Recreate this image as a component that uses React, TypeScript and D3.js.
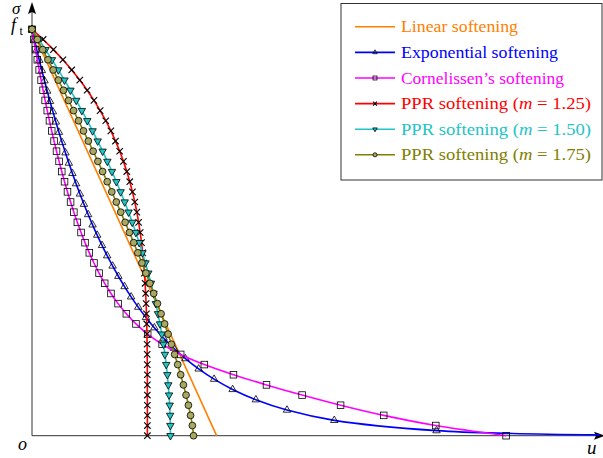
import React from 'react';
import * as d3 from 'd3';

// normalised stress grid sigma/ft (shared by PPR and Cornelissen curves)
const sigmaGrid = [1, 0.975, 0.95, 0.925, 0.9, 0.875, 0.85, 0.825, 0.8, 0.775, 0.75, 0.725, 0.7, 0.675, 0.65, 0.625, 0.6, 0.575, 0.55, 0.525, 0.5, 0.475, 0.45, 0.425, 0.4, 0.375, 0.35, 0.325, 0.3, 0.275, 0.25, 0.225, 0.2, 0.175, 0.15, 0.125, 0.1, 0.075, 0.05, 0.025, 0];

// opening u (in units of Gf/ft)
const linearU = [0, 2];
const linearSigma = [1, 0];

const pprU125 = [0, 0.1204, 0.2319, 0.3349, 0.4299, 0.5173, 0.5975, 0.6709, 0.738, 0.7991, 0.8545, 0.9046, 0.9499, 0.9905, 1.0269, 1.0593, 1.088, 1.1134, 1.1356, 1.155, 1.1719, 1.1864, 1.1987, 1.2092, 1.218, 1.2253, 1.2312, 1.2361, 1.2399, 1.2429, 1.2451, 1.2468, 1.248, 1.2488, 1.2494, 1.2497, 1.2499, 1.25, 1.25, 1.25, 1.25];
const pprU150 = [0, 0.0741, 0.1463, 0.2166, 0.285, 0.3516, 0.4163, 0.4791, 0.54, 0.5991, 0.6563, 0.7116, 0.765, 0.8166, 0.8663, 0.9141, 0.96, 1.0041, 1.0463, 1.0866, 1.125, 1.1616, 1.1963, 1.2291, 1.26, 1.2891, 1.3163, 1.3416, 1.365, 1.3866, 1.4063, 1.4241, 1.44, 1.4541, 1.4663, 1.4766, 1.485, 1.4916, 1.4963, 1.4991, 1.5];
const pprU175 = [0, 0.0581, 0.1157, 0.1728, 0.2294, 0.2854, 0.3409, 0.3959, 0.4504, 0.5042, 0.5575, 0.6102, 0.6623, 0.7138, 0.7647, 0.8149, 0.8644, 0.9133, 0.9614, 1.0088, 1.0555, 1.1014, 1.1465, 1.1908, 1.2342, 1.2768, 1.3184, 1.359, 1.3985, 1.437, 1.4744, 1.5105, 1.5453, 1.5787, 1.6105, 1.6406, 1.6688, 1.6946, 1.7178, 1.7372, 1.75];
const cornU = [0, 0.0187, 0.0379, 0.0576, 0.0778, 0.0987, 0.1201, 0.1423, 0.1652, 0.189, 0.2135, 0.239, 0.2656, 0.2933, 0.3222, 0.3525, 0.3844, 0.418, 0.4535, 0.4912, 0.5314, 0.5745, 0.6209, 0.6714, 0.7265, 0.7875, 0.8556, 0.9326, 1.022, 1.1265, 1.2533, 1.41, 1.6107, 1.8669, 2.1823, 2.5403, 2.926, 3.343, 3.8104, 4.3743, 5.136];

const expSigma = [1, 0.9747, 0.9494, 0.924, 0.8987, 0.8734, 0.8481, 0.8228, 0.7974, 0.7721, 0.7468, 0.7215, 0.6962, 0.6708, 0.6455, 0.6202, 0.5949, 0.5696, 0.5442, 0.5189, 0.4936, 0.4683, 0.4429, 0.4176, 0.3923, 0.367, 0.3417, 0.3163, 0.291, 0.2657, 0.2404, 0.2151, 0.1897, 0.1644, 0.1391, 0.1138, 0.0885, 0.0631, 0.0378, 0.0125];
const expU = [0, 0.0256, 0.052, 0.079, 0.1068, 0.1354, 0.1648, 0.1951, 0.2264, 0.2586, 0.292, 0.3265, 0.3622, 0.3992, 0.4377, 0.4777, 0.5194, 0.5629, 0.6084, 0.656, 0.706, 0.7587, 0.8143, 0.8732, 0.9357, 1.0024, 1.0739, 1.1509, 1.2343, 1.3254, 1.4255, 1.5368, 1.6621, 1.8053, 1.9725, 2.1735, 2.4252, 2.7624, 3.2749, 4.382];
const expTailU = [5.2, 6.15];
const expTailSigma = [0.0055, 0.0021];

type Marker = 'none' | 'tri' | 'sq' | 'x' | 'dtri' | 'circ';
interface Series { name: string; m?: string; color: string; u: number[]; s: number[]; nMark: number; marker: Marker; fill: string; }

const series: Series[] = [
  { name: 'Linear softening', color: '#ff8000', u: linearU, s: linearSigma, nMark: 0, marker: 'none', fill: 'none' },
  { name: 'Exponential softening', color: '#0000ff', u: [...expU, ...expTailU], s: [...expSigma, ...expTailSigma], nMark: expU.length, marker: 'tri', fill: 'none' },
  { name: 'Cornelissen\u2019s softening', color: '#ff00ff', u: cornU, s: sigmaGrid, nMark: cornU.length, marker: 'sq', fill: 'none' },
  { name: 'PPR softening ', m: '1.25', color: '#ff0000', u: pprU125, s: sigmaGrid, nMark: pprU125.length, marker: 'x', fill: 'none' },
  { name: 'PPR softening ', m: '1.50', color: '#22c4c4', u: pprU150, s: sigmaGrid, nMark: pprU150.length, marker: 'dtri', fill: '#22c4c4' },
  { name: 'PPR softening ', m: '1.75', color: '#808000', u: pprU175, s: sigmaGrid, nMark: pprU175.length, marker: 'circ', fill: '#a8a860' },
];
const legendWidths = [117, 157, 163, 190, 190, 190];

function MarkerShape({ type, cx, cy, k, fill }: { type: Marker; cx: number; cy: number; k: number; fill: string }) {
  const sw = 0.8;
  if (type === 'tri') {
    const r = 4.3 * k;
    return <polygon points={`${cx},${cy - r} ${cx - r * 0.866},${cy + r / 2} ${cx + r * 0.866},${cy + r / 2}`} fill={fill} stroke="#000" strokeWidth={sw} />;
  }
  if (type === 'dtri') {
    const r = 4.3 * k;
    return <polygon points={`${cx},${cy + r} ${cx - r * 0.866},${cy - r / 2} ${cx + r * 0.866},${cy - r / 2}`} fill={fill} stroke="#000" strokeWidth={sw} />;
  }
  if (type === 'sq') {
    const r = 3.3 * k;
    return <rect x={cx - r} y={cy - r} width={2 * r} height={2 * r} fill={fill} stroke="#000" strokeWidth={sw} />;
  }
  if (type === 'x') {
    const r = 3.2 * k;
    return <path d={`M${cx - r},${cy - r}L${cx + r},${cy + r}M${cx - r},${cy + r}L${cx + r},${cy - r}`} stroke="#000" strokeWidth={1.1} />;
  }
  if (type === 'circ') {
    const r = 3.4 * k;
    return <circle cx={cx} cy={cy} r={r} fill={fill} stroke="#000" strokeWidth={sw} />;
  }
  return null;
}

export default function App() {
  const x = d3.scaleLinear().domain([0, 6.2]).range([32, 604.3]);
  const y = d3.scaleLinear().domain([0, 1]).range([435.7, 29.3]);
  const line = d3.line<[number, number]>().x(d => x(d[0])).y(d => y(d[1])).curve(d3.curveCatmullRom.alpha(0.5));
  const x0 = x(0), y0 = y(0);
  const font = "'Liberation Serif', 'Times New Roman', serif";

  const legX = 341, legY = 3.5, legW = 261, legH = 176.5;
  const rowY = (i: number) => 26.8 + i * 25.6;

  return (
    <svg width={603} height={458} style={{ position: 'absolute', left: 0, top: 0, background: '#fff' }} fontFamily={font}>
      {/* axes */}
      <line x1={x0} y1={y0} x2={597} y2={y0} stroke="#333" strokeWidth={1} />
      <line x1={x0} y1={y0} x2={x0} y2={12} stroke="#333" strokeWidth={1} />
      <polygon points={`605,${y0} 594,${y0 - 4} 596,${y0} 594,${y0 + 4}`} fill="#000" />
      <polygon points={`${x0},2 ${x0 - 4},14 ${x0},12 ${x0 + 4},14`} fill="#000" />
      <text x={12} y={14} fontSize={17} fontStyle="italic">σ</text>
      <text x={11} y={31} fontSize={18} fontStyle="italic">f</text>
      <text x={19.5} y={35} fontSize={12}>t</text>
      <text x={18} y={450} fontSize={18} fontStyle="italic">o</text>
      <text x={587} y={454} fontSize={19} fontStyle="italic">u</text>

      {/* curves */}
      {series.map((sr, i) => {
        const pts: [number, number][] = sr.u.map((u, j) => [u, sr.s[j]]);
        return (
          <g key={i}>
            <path d={line(pts) || ''} fill="none" stroke={sr.color} strokeWidth={1.6} />
            {pts.slice(0, sr.nMark).map((p, j) => (
              <MarkerShape key={j} type={sr.marker} cx={x(p[0])} cy={y(p[1])} k={1} fill={sr.fill} />
            ))}
          </g>
        );
      })}

      {/* legend */}
      <rect x={legX} y={legY} width={legW} height={legH} fill="#fff" stroke="#333" strokeWidth={1} />
      {series.map((sr, i) => (
        <g key={i}>
          <line x1={355} x2={395} y1={rowY(i)} y2={rowY(i)} stroke={sr.color} strokeWidth={1.6} />
          <MarkerShape type={sr.marker} cx={375} cy={rowY(i)} k={0.6} fill={sr.fill} />
          <text x={401} y={rowY(i) + 5.5} fontSize={17.5} fill={sr.color} textLength={legendWidths[i]} lengthAdjust="spacingAndGlyphs">
            {sr.name}
            {sr.m ? (<>
              <tspan>(</tspan><tspan fontStyle="italic">m</tspan><tspan> = {sr.m})</tspan>
            </>) : null}
          </text>
        </g>
      ))}
    </svg>
  );
}
